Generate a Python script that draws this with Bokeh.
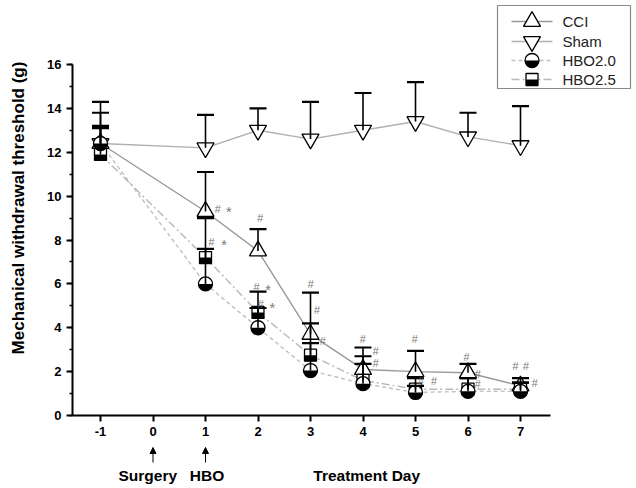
import numpy as np
from bokeh.plotting import figure
from bokeh.layouts import column
from bokeh.models import (ColumnDataSource, FixedTicker, SingleIntervalTicker,
                          Arrow, NormalHead, Range1d)
from bokeh.core.properties import value
from bokeh.embed import file_html
from bokeh.resources import INLINE

# ---- data -------------------------------------------------------------
days = [-1, 1, 2, 3, 4, 5, 6, 7]
day_ticks = [-1, 0, 1, 2, 3, 4, 5, 6, 7]

cci_mean = [12.4, 9.3, 7.5, 3.7, 2.1, 2.0, 1.95, 1.35]
cci_err = [1.4, 1.8, 1.0, 1.9, 1.0, 0.95, 0.4, 0.35]

sham_mean = [12.4, 12.2, 13.0, 12.6, 13.0, 13.4, 12.7, 12.3]
sham_err = [1.9, 1.5, 1.0, 1.7, 1.7, 1.8, 1.1, 1.8]

hbo20_mean = [12.4, 6.0, 4.0, 2.05, 1.45, 1.05, 1.1, 1.1]
hbo20_err = [0.8, 1.6, 0.9, 1.25, 0.9, 0.3, 0.6, 0.4]

hbo25_mean = [11.9, 7.2, 4.7, 2.75, 1.6, 1.2, 1.2, 1.2]
hbo25_err = [1.2, 1.8, 0.95, 1.45, 1.1, 0.5, 0.5, 0.3]

# significance marks (day position, threshold level, symbol)
sig_day = [1.23, 1.43, 1.11, 1.34, 2.04, 1.97, 2.18, 2.05, 2.26,
           3.0, 3.12, 3.23, 3.99, 4.24, 4.24, 4.98, 5.1, 5.35,
           5.97, 6.18, 6.18, 6.9, 7.1, 7.27]
sig_level = [9.4, 9.4, 7.9, 7.9, 9.0, 5.86, 5.86, 5.1, 5.05,
             6.0, 4.8, 3.41, 3.5, 2.95, 2.4, 3.5, 1.59, 1.59,
             2.68, 1.91, 1.45, 2.27, 2.27, 1.5]
sig_text = ["#", "*", "#", "*", "#", "#", "*", "#", "*",
            "#", "#", "#", "#", "#", "#", "#", "#", "#",
            "#", "#", "#", "#", "#", "#"]

series_names = ["CCI", "Sham", "HBO2.0", "HBO2.5"]

# event notes under the day axis
event_days = [0, 1]
note_text = ["Surgery", "HBO", "Treatment Day"]
note_day = [-0.1, 1.03, 4.07]

# ---- geometry of the plotting frame -------------------------------------
W = 636
MAIN_H, NOTE_H = 445, 43
FRAME_L = 72
FRAME_W = W - FRAME_L
FRAME_H = 415
PX_X = 52.5          # pixels per day
PX_Y = 351 / 16.0    # pixels per gram
X_START = -1 - 28 / PX_X
X_END = X_START + FRAME_W / PX_X
Y_END = FRAME_H / PX_Y

FONT = "Liberation Sans"


def px_to_x(px):
    return X_START + (px - FRAME_L) / PX_X


def py_to_y(py):
    return (FRAME_H - py) / PX_Y


p = figure(width=W, height=MAIN_H, x_range=Range1d(X_START, X_END),
           y_range=Range1d(0, Y_END), output_backend="svg",
           toolbar_location=None, min_border_left=FRAME_L, min_border_right=0,
           min_border_top=0, min_border_bottom=MAIN_H - FRAME_H)
p.outline_line_color = None
p.xgrid.visible = False
p.ygrid.visible = False

# ---- axes ---------------------------------------------------------------
p.xaxis.ticker = FixedTicker(ticks=day_ticks)
p.xaxis.bounds = (X_START, 7.57)
p.xaxis.minor_tick_line_color = None
p.xaxis.major_label_overrides = {-1: "-1"}
p.yaxis.ticker = SingleIntervalTicker(interval=2, num_minor_ticks=2)
p.yaxis.bounds = (0, 16)
p.yaxis.axis_label = "Mechanical withdrawal threshold (g)"
for ax in (p.xaxis[0], p.yaxis[0]):
    ax.axis_line_width = 2
    ax.axis_line_color = "black"
    ax.major_tick_line_width = 2
    ax.major_tick_line_color = "black"
    ax.major_tick_in = 0
    ax.major_tick_out = 6
    ax.minor_tick_in = 0
    ax.minor_tick_out = 3
    ax.minor_tick_line_width = 1.5
    ax.major_label_text_font = FONT
    ax.major_label_text_font_style = "bold"
    ax.major_label_text_font_size = "13px"
    ax.major_label_text_color = "black"
    ax.major_label_standoff = 5
p.yaxis.axis_label_text_font = FONT
p.yaxis.axis_label_text_font_style = "bold"
p.yaxis.axis_label_text_font_size = "17px"
p.yaxis.axis_label_text_color = "black"
p.yaxis.axis_label_standoff = 16


def upper(mean, err):
    return [m + e for m, e in zip(mean, err)]


# ---- connecting lines ---------------------------------------------------
line_styles = {
    "CCI": ("#999999", "solid"),
    "Sham": ("#b0b0b0", "solid"),
    "HBO2.0": ("#c0c0c0", "4 3"),
    "HBO2.5": ("#b8b8b8", "8 3 2 3"),
}
for name, mean in zip(series_names, (cci_mean, sham_mean, hbo20_mean, hbo25_mean)):
    col, dash = line_styles[name]
    p.line(days, mean, line_color=col, line_width=1.4, line_dash=dash)


# ---- markers ------------------------------------------------------------
def tri_up(xs, ys):
    p.scatter(xs, ys, marker="triangle", size=17, fill_color="white",
              line_color="black", line_width=1.3)


def tri_down(xs, ys):
    p.scatter(xs, ys, marker="inverted_triangle", size=17, fill_color="white",
              line_color="black", line_width=1.3)


def half_circle(xs, ys):
    p.scatter(xs, ys, marker="circle", size=14, fill_color="white",
              line_color="black", line_width=1.3)
    p.wedge(x=xs, y=ys, radius=7, radius_units="screen",
            start_angle=np.pi, end_angle=2 * np.pi,
            fill_color="black", line_color=None)


def half_square(xs, ys):
    p.scatter(xs, ys, marker="square", size=12, fill_color="white",
              line_color="black", line_width=1.3)
    p.rect(x=xs, y=[v - 3 / PX_Y for v in ys], width=12, height=6,
           width_units="screen", height_units="screen",
           fill_color="black", line_color=None)


def error_bars(xs, mean, err):
    top = upper(mean, err)
    p.segment(x0=xs, y0=mean, x1=xs, y1=top, line_color="black", line_width=1.6)
    p.scatter(xs, top, marker="dash", size=17, line_color="black", line_width=2.2)


tri_up(days, cci_mean)
tri_down(days, sham_mean)
half_square(days, hbo25_mean)
half_circle(days, hbo20_mean)

error_bars(days, cci_mean, cci_err)
error_bars(days, sham_mean, sham_err)
error_bars(days, hbo25_mean, hbo25_err)
error_bars(days, hbo20_mean, hbo20_err)

# ---- significance marks -------------------------------------------------
sig_size = ["15px" if t == "*" else "11px" for t in sig_text]
sig_y = [v - 0.12 if t == "*" else v for v, t in zip(sig_level, sig_text)]
sig = ColumnDataSource(dict(x=sig_day, y=sig_y, t=sig_text, s=sig_size))
p.text(x="x", y="y", text="t", source=sig, text_font=value(FONT),
       text_font_size="s", text_font_style="italic", text_color="#7a7a7a",
       text_align="center", text_baseline="middle")

# ---- legend -------------------------------------------------------------
p.quad(left=px_to_x(497), right=px_to_x(630), top=py_to_y(5), bottom=py_to_y(88),
       fill_color="white", line_color="#8a8a8a", line_width=1.2)
legend_rows = [py_to_y(r) for r in (21, 41, 60, 79)]
lx0, lx1, lxm, ltx = px_to_x(511), px_to_x(552), px_to_x(531.5), px_to_x(562)
for row, name in zip(legend_rows, series_names):
    col, dash = line_styles[name]
    p.line([lx0, lx1], [row, row], line_color=col, line_width=1.4, line_dash=dash)
tri_up([lxm], [legend_rows[0]])
tri_down([lxm], [legend_rows[1]])
half_circle([lxm], [legend_rows[2]])
half_square([lxm], [legend_rows[3]])
leg = ColumnDataSource(dict(x=[ltx] * 4, y=legend_rows, t=series_names))
p.text(x="x", y="y", text="t", source=leg, text_font=value(FONT),
       text_font_size="15px", text_color="#222222",
       text_align="left", text_baseline="middle")

# ---- strip under the day axis: event arrows and notes -------------------
q = figure(width=W, height=NOTE_H, x_range=p.x_range, y_range=Range1d(0, NOTE_H),
           output_backend="svg", toolbar_location=None,
           x_axis_location=None, y_axis_location=None,
           min_border_left=FRAME_L, min_border_right=0,
           min_border_top=0, min_border_bottom=0)
q.outline_line_color = None
q.xgrid.visible = False
q.ygrid.visible = False
for d in event_days:
    q.add_layout(Arrow(end=NormalHead(size=6, fill_color="black", line_color="black"),
                       x_start=d, y_start=26, x_end=d, y_end=41,
                       line_color="black", line_width=1))
notes = ColumnDataSource(dict(x=note_day, y=[13] * 3, t=note_text))
q.text(x="x", y="y", text="t", source=notes, text_font=value(FONT),
       text_font_style="bold", text_font_size="15.5px", text_color="black",
       text_align="center", text_baseline="middle")

layout = column(p, q, spacing=0)
open("out.html", "w").write(file_html(layout, INLINE))
